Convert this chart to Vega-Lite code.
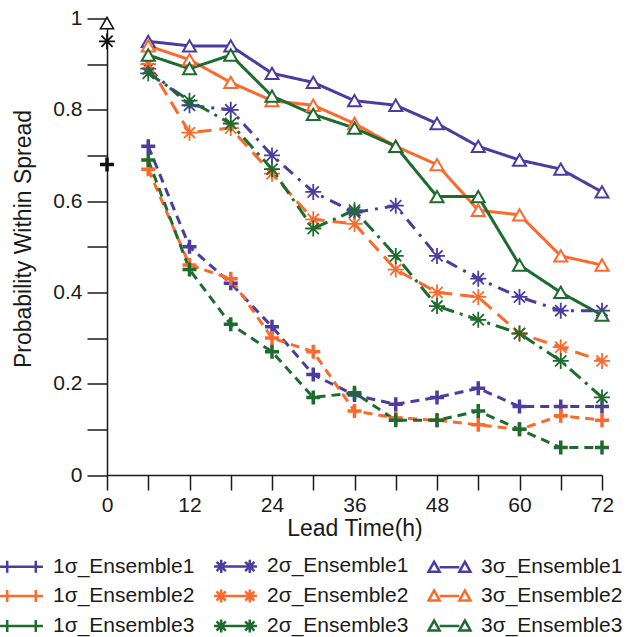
{
  "$schema": "https://vega.github.io/schema/vega-lite/v6.json",
  "width": 495,
  "height": 456.5,
  "autosize": {"type": "none"},
  "padding": {"left": 107, "top": 18.5, "right": 34, "bottom": 162},
  "background": "white",
  "config": {
    "view": {"stroke": null},
    "font": "Liberation Sans",
    "axis": {"grid": false, "domainColor": "#1a1a1a", "tickColor": "#1a1a1a", "domainWidth": 1.5, "tickWidth": 1.5, "labelColor": "#1a1a1a", "titleColor": "#1a1a1a", "labelFont": "Liberation Sans", "titleFont": "Liberation Sans", "titleFontWeight": "normal"}
  },
  "datasets": {
    "main": [
      {"h": 6, "p": 0.72, "series": "1σ_Ensemble1", "sigma": "1"},
      {"h": 12, "p": 0.5, "series": "1σ_Ensemble1", "sigma": "1"},
      {"h": 18, "p": 0.42, "series": "1σ_Ensemble1", "sigma": "1"},
      {"h": 24, "p": 0.325, "series": "1σ_Ensemble1", "sigma": "1"},
      {"h": 30, "p": 0.22, "series": "1σ_Ensemble1", "sigma": "1"},
      {"h": 36, "p": 0.175, "series": "1σ_Ensemble1", "sigma": "1"},
      {"h": 42, "p": 0.155, "series": "1σ_Ensemble1", "sigma": "1"},
      {"h": 48, "p": 0.17, "series": "1σ_Ensemble1", "sigma": "1"},
      {"h": 54, "p": 0.19, "series": "1σ_Ensemble1", "sigma": "1"},
      {"h": 60, "p": 0.15, "series": "1σ_Ensemble1", "sigma": "1"},
      {"h": 66, "p": 0.15, "series": "1σ_Ensemble1", "sigma": "1"},
      {"h": 72, "p": 0.15, "series": "1σ_Ensemble1", "sigma": "1"},
      {"h": 6, "p": 0.67, "series": "1σ_Ensemble2", "sigma": "1"},
      {"h": 12, "p": 0.46, "series": "1σ_Ensemble2", "sigma": "1"},
      {"h": 18, "p": 0.43, "series": "1σ_Ensemble2", "sigma": "1"},
      {"h": 24, "p": 0.3, "series": "1σ_Ensemble2", "sigma": "1"},
      {"h": 30, "p": 0.27, "series": "1σ_Ensemble2", "sigma": "1"},
      {"h": 36, "p": 0.14, "series": "1σ_Ensemble2", "sigma": "1"},
      {"h": 42, "p": 0.125, "series": "1σ_Ensemble2", "sigma": "1"},
      {"h": 48, "p": 0.12, "series": "1σ_Ensemble2", "sigma": "1"},
      {"h": 54, "p": 0.11, "series": "1σ_Ensemble2", "sigma": "1"},
      {"h": 60, "p": 0.1, "series": "1σ_Ensemble2", "sigma": "1"},
      {"h": 66, "p": 0.13, "series": "1σ_Ensemble2", "sigma": "1"},
      {"h": 72, "p": 0.12, "series": "1σ_Ensemble2", "sigma": "1"},
      {"h": 6, "p": 0.69, "series": "1σ_Ensemble3", "sigma": "1"},
      {"h": 12, "p": 0.45, "series": "1σ_Ensemble3", "sigma": "1"},
      {"h": 18, "p": 0.33, "series": "1σ_Ensemble3", "sigma": "1"},
      {"h": 24, "p": 0.27, "series": "1σ_Ensemble3", "sigma": "1"},
      {"h": 30, "p": 0.17, "series": "1σ_Ensemble3", "sigma": "1"},
      {"h": 36, "p": 0.18, "series": "1σ_Ensemble3", "sigma": "1"},
      {"h": 42, "p": 0.12, "series": "1σ_Ensemble3", "sigma": "1"},
      {"h": 48, "p": 0.12, "series": "1σ_Ensemble3", "sigma": "1"},
      {"h": 54, "p": 0.14, "series": "1σ_Ensemble3", "sigma": "1"},
      {"h": 60, "p": 0.1, "series": "1σ_Ensemble3", "sigma": "1"},
      {"h": 66, "p": 0.06, "series": "1σ_Ensemble3", "sigma": "1"},
      {"h": 72, "p": 0.06, "series": "1σ_Ensemble3", "sigma": "1"},
      {"h": 6, "p": 0.89, "series": "2σ_Ensemble1", "sigma": "2"},
      {"h": 12, "p": 0.81, "series": "2σ_Ensemble1", "sigma": "2"},
      {"h": 18, "p": 0.8, "series": "2σ_Ensemble1", "sigma": "2"},
      {"h": 24, "p": 0.7, "series": "2σ_Ensemble1", "sigma": "2"},
      {"h": 30, "p": 0.62, "series": "2σ_Ensemble1", "sigma": "2"},
      {"h": 36, "p": 0.575, "series": "2σ_Ensemble1", "sigma": "2"},
      {"h": 42, "p": 0.59, "series": "2σ_Ensemble1", "sigma": "2"},
      {"h": 48, "p": 0.48, "series": "2σ_Ensemble1", "sigma": "2"},
      {"h": 54, "p": 0.43, "series": "2σ_Ensemble1", "sigma": "2"},
      {"h": 60, "p": 0.39, "series": "2σ_Ensemble1", "sigma": "2"},
      {"h": 66, "p": 0.36, "series": "2σ_Ensemble1", "sigma": "2"},
      {"h": 72, "p": 0.36, "series": "2σ_Ensemble1", "sigma": "2"},
      {"h": 6, "p": 0.9, "series": "2σ_Ensemble2", "sigma": "2"},
      {"h": 12, "p": 0.75, "series": "2σ_Ensemble2", "sigma": "2"},
      {"h": 18, "p": 0.76, "series": "2σ_Ensemble2", "sigma": "2"},
      {"h": 24, "p": 0.66, "series": "2σ_Ensemble2", "sigma": "2"},
      {"h": 30, "p": 0.56, "series": "2σ_Ensemble2", "sigma": "2"},
      {"h": 36, "p": 0.55, "series": "2σ_Ensemble2", "sigma": "2"},
      {"h": 42, "p": 0.45, "series": "2σ_Ensemble2", "sigma": "2"},
      {"h": 48, "p": 0.4, "series": "2σ_Ensemble2", "sigma": "2"},
      {"h": 54, "p": 0.39, "series": "2σ_Ensemble2", "sigma": "2"},
      {"h": 60, "p": 0.31, "series": "2σ_Ensemble2", "sigma": "2"},
      {"h": 66, "p": 0.28, "series": "2σ_Ensemble2", "sigma": "2"},
      {"h": 72, "p": 0.25, "series": "2σ_Ensemble2", "sigma": "2"},
      {"h": 6, "p": 0.88, "series": "2σ_Ensemble3", "sigma": "2"},
      {"h": 12, "p": 0.82, "series": "2σ_Ensemble3", "sigma": "2"},
      {"h": 18, "p": 0.77, "series": "2σ_Ensemble3", "sigma": "2"},
      {"h": 24, "p": 0.67, "series": "2σ_Ensemble3", "sigma": "2"},
      {"h": 30, "p": 0.54, "series": "2σ_Ensemble3", "sigma": "2"},
      {"h": 36, "p": 0.58, "series": "2σ_Ensemble3", "sigma": "2"},
      {"h": 42, "p": 0.48, "series": "2σ_Ensemble3", "sigma": "2"},
      {"h": 48, "p": 0.37, "series": "2σ_Ensemble3", "sigma": "2"},
      {"h": 54, "p": 0.34, "series": "2σ_Ensemble3", "sigma": "2"},
      {"h": 60, "p": 0.31, "series": "2σ_Ensemble3", "sigma": "2"},
      {"h": 66, "p": 0.25, "series": "2σ_Ensemble3", "sigma": "2"},
      {"h": 72, "p": 0.17, "series": "2σ_Ensemble3", "sigma": "2"},
      {"h": 6, "p": 0.95, "series": "3σ_Ensemble1", "sigma": "3"},
      {"h": 12, "p": 0.94, "series": "3σ_Ensemble1", "sigma": "3"},
      {"h": 18, "p": 0.94, "series": "3σ_Ensemble1", "sigma": "3"},
      {"h": 24, "p": 0.88, "series": "3σ_Ensemble1", "sigma": "3"},
      {"h": 30, "p": 0.86, "series": "3σ_Ensemble1", "sigma": "3"},
      {"h": 36, "p": 0.82, "series": "3σ_Ensemble1", "sigma": "3"},
      {"h": 42, "p": 0.81, "series": "3σ_Ensemble1", "sigma": "3"},
      {"h": 48, "p": 0.77, "series": "3σ_Ensemble1", "sigma": "3"},
      {"h": 54, "p": 0.72, "series": "3σ_Ensemble1", "sigma": "3"},
      {"h": 60, "p": 0.69, "series": "3σ_Ensemble1", "sigma": "3"},
      {"h": 66, "p": 0.67, "series": "3σ_Ensemble1", "sigma": "3"},
      {"h": 72, "p": 0.62, "series": "3σ_Ensemble1", "sigma": "3"},
      {"h": 6, "p": 0.94, "series": "3σ_Ensemble2", "sigma": "3"},
      {"h": 12, "p": 0.91, "series": "3σ_Ensemble2", "sigma": "3"},
      {"h": 18, "p": 0.86, "series": "3σ_Ensemble2", "sigma": "3"},
      {"h": 24, "p": 0.82, "series": "3σ_Ensemble2", "sigma": "3"},
      {"h": 30, "p": 0.81, "series": "3σ_Ensemble2", "sigma": "3"},
      {"h": 36, "p": 0.77, "series": "3σ_Ensemble2", "sigma": "3"},
      {"h": 42, "p": 0.72, "series": "3σ_Ensemble2", "sigma": "3"},
      {"h": 48, "p": 0.68, "series": "3σ_Ensemble2", "sigma": "3"},
      {"h": 54, "p": 0.58, "series": "3σ_Ensemble2", "sigma": "3"},
      {"h": 60, "p": 0.57, "series": "3σ_Ensemble2", "sigma": "3"},
      {"h": 66, "p": 0.48, "series": "3σ_Ensemble2", "sigma": "3"},
      {"h": 72, "p": 0.46, "series": "3σ_Ensemble2", "sigma": "3"},
      {"h": 6, "p": 0.92, "series": "3σ_Ensemble3", "sigma": "3"},
      {"h": 12, "p": 0.89, "series": "3σ_Ensemble3", "sigma": "3"},
      {"h": 18, "p": 0.92, "series": "3σ_Ensemble3", "sigma": "3"},
      {"h": 24, "p": 0.83, "series": "3σ_Ensemble3", "sigma": "3"},
      {"h": 30, "p": 0.79, "series": "3σ_Ensemble3", "sigma": "3"},
      {"h": 36, "p": 0.76, "series": "3σ_Ensemble3", "sigma": "3"},
      {"h": 42, "p": 0.72, "series": "3σ_Ensemble3", "sigma": "3"},
      {"h": 48, "p": 0.61, "series": "3σ_Ensemble3", "sigma": "3"},
      {"h": 54, "p": 0.61, "series": "3σ_Ensemble3", "sigma": "3"},
      {"h": 60, "p": 0.46, "series": "3σ_Ensemble3", "sigma": "3"},
      {"h": 66, "p": 0.4, "series": "3σ_Ensemble3", "sigma": "3"},
      {"h": 72, "p": 0.35, "series": "3σ_Ensemble3", "sigma": "3"}
    ],
    "obs": [
      {"h": 0, "p": 0.99, "sigma": "3"},
      {"h": 0, "p": 0.95, "sigma": "2"},
      {"h": 0, "p": 0.68, "sigma": "1"}
    ]
  },
  "encoding": {
    "x": {
      "field": "h", "type": "quantitative",
      "scale": {"domain": [0, 72], "nice": false, "zero": false},
      "axis": {
        "values": [0, 6, 12, 18, 24, 30, 36, 42, 48, 54, 60, 66, 72],
        "labelExpr": "datum.value % 12 == 0 ? datum.label : ''",
        "tickSize": 15, "labelPadding": 4, "labelFontSize": 21, "labelFlush": false,
        "title": "Lead Time(h)", "titleFontSize": 23, "titlePadding": 2,
        "encode": {"ticks": {"update": {"y2": {"signal": "datum.value % 12 == 0 ? 15 : 8"}}}}
      }
    },
    "y": {
      "field": "p", "type": "quantitative",
      "scale": {"domain": [0, 1], "nice": false},
      "axis": {
        "values": [0, 0.1, 0.2, 0.3, 0.4, 0.5, 0.6, 0.7, 0.8, 0.9, 1],
        "format": "~g",
        "labelExpr": "round(datum.value * 10) % 2 == 0 ? datum.label : ''",
        "tickSize": 20, "labelPadding": 5, "labelFontSize": 21, "labelFlush": false,
        "title": "Probability Within Spread", "titleFontSize": 23,
        "titleX": -84, "titleY": 220, "titleAngle": -90, "titleAlign": "center", "titleBaseline": "middle",
        "encode": {"ticks": {"update": {"x2": {"signal": "round(datum.value * 10) % 2 == 0 ? -20 : -8"}}}}
      }
    }
  },
  "layer": [
    {
      "data": {"name": "main"},
      "mark": {"type": "point", "filled": false, "opacity": 0},
      "encoding": {
        "color": {"field": "series", "type": "nominal", "title": null,
          "scale": {"domain": ["1σ_Ensemble1", "2σ_Ensemble1", "3σ_Ensemble1", "1σ_Ensemble2", "2σ_Ensemble2", "3σ_Ensemble2", "1σ_Ensemble3", "2σ_Ensemble3", "3σ_Ensemble3"],
            "range": ["#4b3c9f", "#4b3c9f", "#4b3c9f", "#fb6a2c", "#fb6a2c", "#fb6a2c", "#1d6b2f", "#1d6b2f", "#1d6b2f"]},
          "legend": {"orient": "none", "direction": "horizontal", "legendX": -98, "legendY": 535, "columns": 3, "columnPadding": 14, "rowPadding": 5, "labelFontSize": 21, "labelFont": "Liberation Sans", "labelColor": "#1a1a1a", "symbolSize": 484, "symbolStrokeWidth": 2.5, "labelOffset": 19, "symbolOpacity": 1, "symbolFillColor": "transparent", "symbolDash": [1, 0]}},
        "shape": {"field": "series", "type": "nominal", "title": null,
          "scale": {"domain": ["1σ_Ensemble1", "2σ_Ensemble1", "3σ_Ensemble1", "1σ_Ensemble2", "2σ_Ensemble2", "3σ_Ensemble2", "1σ_Ensemble3", "2σ_Ensemble3", "3σ_Ensemble3"],
            "range": [
              "M-1.95,0L1.95,0M-1.3,-0.55L-1.3,0.55M1.3,-0.55L1.3,0.55",
              "M-1.95,0L1.95,0M-1.3,-0.6L-1.3,0.6M-1.72,-0.42L-0.88,0.42M-1.72,0.42L-0.88,-0.42M1.3,-0.6L1.3,0.6M0.88,-0.42L1.72,0.42M0.88,0.42L1.72,-0.42",
              "M-1.9,0.4L-1.4,-0.5L-0.9,0.4ZM0.9,0.4L1.4,-0.5L1.9,0.4ZM-0.9,0L0.9,0",
              "M-1.95,0L1.95,0M-1.3,-0.55L-1.3,0.55M1.3,-0.55L1.3,0.55",
              "M-1.95,0L1.95,0M-1.3,-0.6L-1.3,0.6M-1.72,-0.42L-0.88,0.42M-1.72,0.42L-0.88,-0.42M1.3,-0.6L1.3,0.6M0.88,-0.42L1.72,0.42M0.88,0.42L1.72,-0.42",
              "M-1.9,0.4L-1.4,-0.5L-0.9,0.4ZM0.9,0.4L1.4,-0.5L1.9,0.4ZM-0.9,0L0.9,0",
              "M-1.95,0L1.95,0M-1.3,-0.55L-1.3,0.55M1.3,-0.55L1.3,0.55",
              "M-1.95,0L1.95,0M-1.3,-0.6L-1.3,0.6M-1.72,-0.42L-0.88,0.42M-1.72,0.42L-0.88,-0.42M1.3,-0.6L1.3,0.6M0.88,-0.42L1.72,0.42M0.88,0.42L1.72,-0.42",
              "M-1.9,0.4L-1.4,-0.5L-0.9,0.4ZM0.9,0.4L1.4,-0.5L1.9,0.4ZM-0.9,0L0.9,0"
            ]},
          "legend": {"orient": "none", "direction": "horizontal", "legendX": -98, "legendY": 535, "columns": 3, "columnPadding": 14, "rowPadding": 5, "labelFontSize": 21, "labelFont": "Liberation Sans", "labelColor": "#1a1a1a", "symbolSize": 484, "symbolStrokeWidth": 2.5, "labelOffset": 19, "symbolOpacity": 1, "symbolFillColor": "transparent", "symbolDash": [1, 0]}}
      }
    },
    {
      "data": {"name": "main"},
      "mark": {"type": "line", "strokeWidth": 3},
      "encoding": {
        "color": {"field": "series", "type": "nominal", "title": null,
          "scale": {"domain": ["1σ_Ensemble1", "2σ_Ensemble1", "3σ_Ensemble1", "1σ_Ensemble2", "2σ_Ensemble2", "3σ_Ensemble2", "1σ_Ensemble3", "2σ_Ensemble3", "3σ_Ensemble3"],
            "range": ["#4b3c9f", "#4b3c9f", "#4b3c9f", "#fb6a2c", "#fb6a2c", "#fb6a2c", "#1d6b2f", "#1d6b2f", "#1d6b2f"]}},
        "strokeDash": {"field": "series", "type": "nominal", "legend": null,
          "scale": {"domain": ["3σ_Ensemble3", "2σ_Ensemble3", "1σ_Ensemble3", "3σ_Ensemble2", "2σ_Ensemble2", "1σ_Ensemble2", "3σ_Ensemble1", "2σ_Ensemble1", "1σ_Ensemble1"],
            "range": [[1, 0], [14, 6, 3, 6], [9, 6], [1, 0], [14, 8], [9, 6], [1, 0], [12, 7, 3, 7], [9, 6]]}}
      }
    },
    {
      "data": {"name": "main"},
      "transform": [{"filter": "datum.sigma == '1'"}],
      "mark": {"type": "point", "shape": "M-1,0L1,0M0,-1L0,1", "filled": false, "size": 196, "strokeWidth": 3.5, "opacity": 1},
      "encoding": {"color": {"field": "series", "type": "nominal", "title": null,
        "scale": {"domain": ["1σ_Ensemble1", "2σ_Ensemble1", "3σ_Ensemble1", "1σ_Ensemble2", "2σ_Ensemble2", "3σ_Ensemble2", "1σ_Ensemble3", "2σ_Ensemble3", "3σ_Ensemble3"],
          "range": ["#4b3c9f", "#4b3c9f", "#4b3c9f", "#fb6a2c", "#fb6a2c", "#fb6a2c", "#1d6b2f", "#1d6b2f", "#1d6b2f"]}}}
    },
    {
      "data": {"name": "main"},
      "transform": [{"filter": "datum.sigma == '2'"}],
      "mark": {"type": "point", "shape": "M-1,0L1,0M0,-1L0,1M-0.7,-0.7L0.7,0.7M-0.7,0.7L0.7,-0.7", "filled": false, "size": 256, "strokeWidth": 1.8, "opacity": 1},
      "encoding": {"color": {"field": "series", "type": "nominal", "title": null,
        "scale": {"domain": ["1σ_Ensemble1", "2σ_Ensemble1", "3σ_Ensemble1", "1σ_Ensemble2", "2σ_Ensemble2", "3σ_Ensemble2", "1σ_Ensemble3", "2σ_Ensemble3", "3σ_Ensemble3"],
          "range": ["#4b3c9f", "#4b3c9f", "#4b3c9f", "#fb6a2c", "#fb6a2c", "#fb6a2c", "#1d6b2f", "#1d6b2f", "#1d6b2f"]}}}
    },
    {
      "data": {"name": "main"},
      "transform": [{"filter": "datum.sigma == '3'"}],
      "mark": {"type": "point", "shape": "triangle-up", "filled": false, "fill": "white", "size": 170, "strokeWidth": 2, "opacity": 1},
      "encoding": {"color": {"field": "series", "type": "nominal", "title": null,
        "scale": {"domain": ["1σ_Ensemble1", "2σ_Ensemble1", "3σ_Ensemble1", "1σ_Ensemble2", "2σ_Ensemble2", "3σ_Ensemble2", "1σ_Ensemble3", "2σ_Ensemble3", "3σ_Ensemble3"],
          "range": ["#4b3c9f", "#4b3c9f", "#4b3c9f", "#fb6a2c", "#fb6a2c", "#fb6a2c", "#1d6b2f", "#1d6b2f", "#1d6b2f"]}}}
    },
    {
      "data": {"name": "obs"},
      "transform": [{"filter": "datum.sigma == '1'"}],
      "mark": {"type": "point", "shape": "M-1,0L1,0M0,-1L0,1", "filled": false, "size": 196, "strokeWidth": 3.5, "color": "#111111", "opacity": 1}
    },
    {
      "data": {"name": "obs"},
      "transform": [{"filter": "datum.sigma == '2'"}],
      "mark": {"type": "point", "shape": "M-1,0L1,0M0,-1L0,1M-0.7,-0.7L0.7,0.7M-0.7,0.7L0.7,-0.7", "filled": false, "size": 256, "strokeWidth": 1.8, "color": "#111111", "opacity": 1}
    },
    {
      "data": {"name": "obs"},
      "transform": [{"filter": "datum.sigma == '3'"}],
      "mark": {"type": "point", "shape": "triangle-up", "filled": false, "fill": "white", "size": 170, "strokeWidth": 1.6, "color": "#111111", "opacity": 1}
    }
  ]
}
